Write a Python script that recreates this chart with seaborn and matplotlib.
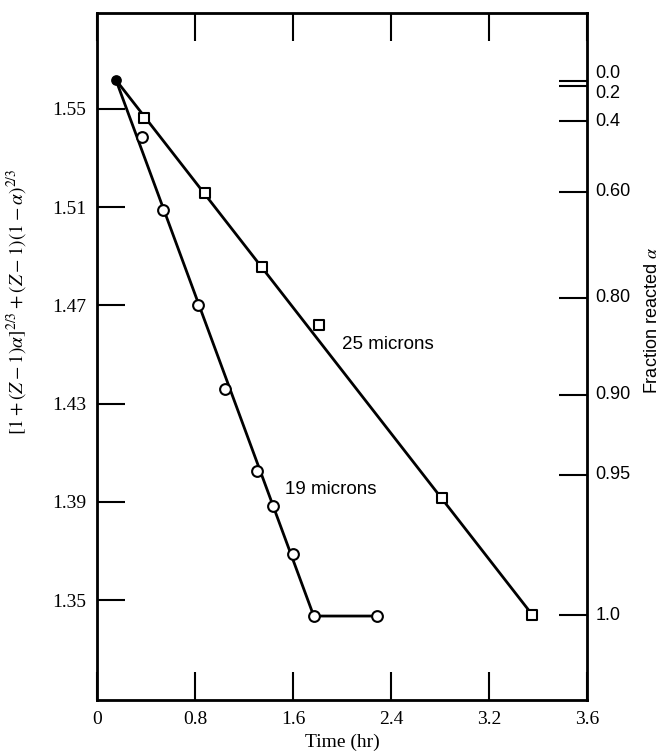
import pandas as pd
import seaborn as sns
import matplotlib.pyplot as plt
import matplotlib.transforms as mtransforms

# data (left axis units)
start_time = [0.155]
start_value = [1.5618]

time_25 = [0.383, 0.881, 1.346, 1.811, 2.814, 3.556]
value_25 = [1.5463, 1.5158, 1.4857, 1.4621, 1.3916, 1.3439]
fit_time_25 = [0.155, 3.556]
fit_value_25 = [1.5618, 1.3439]

time_19 = [0.367, 0.538, 0.824, 1.044, 1.305, 1.436, 1.599, 1.770, 2.284]
value_19 = [1.5386, 1.5089, 1.4700, 1.4361, 1.4026, 1.3884, 1.3688, 1.3435, 1.3435]
fit_time_19 = [0.155, 1.770, 2.284]
fit_value_19 = [1.5618, 1.3435, 1.3435]

x_ticks = [0, 0.8, 1.6, 2.4, 3.2, 4.0]
x_ticklabels = ['0', '0.8', '1.6', '2.4', '3.2', '3.6']
y_ticks = [1.35, 1.39, 1.43, 1.47, 1.51, 1.55]

# right axis: fraction reacted, tick positions on left scale
alpha_tick_pos = [1.5612, 1.5594, 1.5451, 1.5162, 1.4731, 1.4336, 1.4011, 1.3439]
alpha_label_pos = [1.5645, 1.5565, 1.5451, 1.5162, 1.4731, 1.4336, 1.4011, 1.3439]
alpha_labels = ['0.0', '0.2', '0.4', '0.60', '0.80', '0.90', '0.95', '1.0']

sns.set_style('ticks')
plt.rcParams['mathtext.fontset'] = 'stix'
plt.rcParams.update({'axes.edgecolor': 'black', 'xtick.color': 'black',
                     'ytick.color': 'black', 'text.color': 'black',
                     'axes.labelcolor': 'black'})

fig = plt.figure(figsize=(6.62, 7.51), dpi=100)
ax = fig.add_axes([0.1465, 0.0679, 0.74, 0.9148])

pts25 = pd.DataFrame({'t': time_25, 'v': value_25})
pts19 = pd.DataFrame({'t': time_19, 'v': value_19})
fit25 = pd.DataFrame({'t': fit_time_25, 'v': fit_value_25})
fit19 = pd.DataFrame({'t': fit_time_19, 'v': fit_value_19})

sns.lineplot(data=fit25, x='t', y='v', ax=ax, color='black', lw=2.0, sort=False)
sns.lineplot(data=fit19, x='t', y='v', ax=ax, color='black', lw=2.0, sort=False)
sns.scatterplot(data=pts25, x='t', y='v', ax=ax, marker='s', s=60,
                facecolor='white', edgecolor='black', linewidth=1.5, zorder=3)
sns.scatterplot(data=pts19, x='t', y='v', ax=ax, marker='o', s=60,
                facecolor='white', edgecolor='black', linewidth=1.5, zorder=3)
ax.scatter(start_time, start_value, s=45, color='black', zorder=4)

ax.set_xlim(0, 4.0)
ax.set_ylim(1.3093, 1.5891)
ax.set_xticks(x_ticks)
ax.set_xticklabels(x_ticklabels, family='Liberation Serif', fontsize=14)
ax.set_yticks(y_ticks)
ax.set_yticklabels([f'{v:.2f}' for v in y_ticks], family='Liberation Serif', fontsize=14)
ax.tick_params(direction='in', length=20, width=1.5, top=True, pad=8)
ax.set_xlabel('Time (hr)', family='Liberation Serif', fontsize=14, labelpad=4)
ax.set_ylabel(r'$[1 + (Z - 1)\alpha]^{2/3} + (Z - 1)(1 - \alpha)^{2/3}$', fontsize=14)
ax.yaxis.set_label_coords(-0.137, 0.579)
for sp in ax.spines.values():
    sp.set_linewidth(2)

ax2 = ax.twinx()
ax2.set_ylim(ax.get_ylim())
ax2.set_yticks(alpha_tick_pos)
ax2.set_yticklabels([])
ax2.tick_params(axis='y', direction='in', length=20, width=1.5)
trans = mtransforms.blended_transform_factory(ax2.transAxes, ax2.transData)
for pos, lab in zip(alpha_label_pos, alpha_labels):
    ax2.text(1.018, pos, lab, transform=trans, family='Liberation Sans',
             fontsize=13, va='center', ha='left')
ax2.set_ylabel(r'Fraction reacted $\alpha$', family='Liberation Sans', fontsize=13)
ax2.yaxis.set_label_coords(1.116, 0.553)

ax.text(2.0, 1.4541, '25 microns', family='Liberation Sans', fontsize=13.5, va='center')
ax.text(1.533, 1.3949, '19 microns', family='Liberation Sans', fontsize=13.5, va='center')

fig.savefig('out.png', dpi=100)
